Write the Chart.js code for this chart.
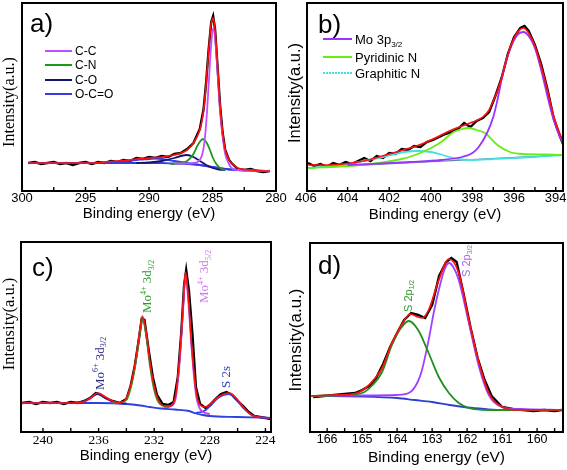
<!DOCTYPE html>
<html>
<head>
<meta charset="utf-8">
<script src="https://cdn.jsdelivr.net/npm/chart.js@4.4.1/dist/chart.umd.min.js"></script>
<style>
  body { margin: 0; background: #fff; }
  #wrap { position: relative; width: 567px; height: 470px; overflow: hidden; background: #fff; }
  canvas { position: absolute; }
</style>
</head>
<body>
<div id="wrap">
  <canvas id="chartA" width="300" height="230" style="left:0;top:0"></canvas>
  <canvas id="chartB" width="282" height="230" style="left:285px;top:0"></canvas>
  <canvas id="chartC" width="300" height="240" style="left:0;top:230px"></canvas>
  <canvas id="chartD" width="282" height="240" style="left:285px;top:230px"></canvas>
</div>
<script>
// ---- a) C 1s ----
const ticksA = [300, 295, 290, 285, 280];
const rawA_E = [299.5, 299, 298.5, 298, 297.5, 297, 296.5, 296, 295.5, 295, 294.5, 294, 293.5, 293, 292.5, 292, 291.5, 291, 290.5, 290, 289.5, 289, 288.5, 288, 287.5, 287, 286.5, 286, 285.7, 285.5, 285.3, 285.1, 284.95, 284.8, 284.6, 284.4, 284.2, 284, 283.7, 283.5, 283, 282.5, 282, 281.5, 281, 280.5];
const rawA_I = [29, 30, 28, 29, 30, 28, 29, 27, 29, 30, 28, 30, 29, 31, 30, 32, 31, 34, 33, 35, 34, 36, 35, 38, 39, 43, 49, 63, 83, 110, 143, 170, 176, 163, 125, 86, 59, 42, 32, 29, 23, 22, 23, 21, 20, 21];
const fitA_I = [29, 29, 29, 29, 29, 29, 29, 29, 29, 29, 29, 29.5, 30, 30.5, 31, 31.5, 32, 33, 33.5, 34, 34.5, 35, 36, 37, 39, 42, 49, 62, 82, 109, 142, 169, 174, 162, 125, 85, 59, 42, 32, 29, 24, 22.5, 22, 21.5, 21, 21];
const ccE = [288, 287, 286.5, 286, 285.7, 285.5, 285.3, 285.1, 284.95, 284.8, 284.6, 284.4, 284.2, 284, 283.7, 283.5, 283, 282, 280.5];
const ccI = [28.5, 28.5, 29, 32, 44, 68, 108, 148, 164, 154, 119, 80, 55, 38, 28, 24, 22, 21.5, 21];
const cnE = [288.3, 287.5, 287, 286.5, 286.2, 285.95, 285.75, 285.5, 285.2, 285, 284.7, 284.3, 284];
const cnI = [28, 29, 31, 38, 46, 51, 53, 50, 42, 35, 28, 23, 22];
const coE = [291, 290, 289, 288, 287.5, 287, 286.5, 286, 285.5, 285, 284.5, 284];
const coI = [29, 29.5, 31, 34, 36, 37, 35, 31, 27, 24, 22.5, 22];
const occE = [299.5, 294, 293, 292, 291, 290, 289.5, 289, 288, 287, 286, 285, 284, 283, 280.5];
const occI = [29, 29, 29.5, 30.5, 32, 33, 33.5, 33, 31, 29, 27, 25, 23, 22, 21];
const bgA_E = [299.5, 289, 288, 287, 286, 285, 284, 283, 280.5];
const bgA_I = [29, 29, 28.5, 28, 27, 25, 23, 22, 21];

// ---- b) N 1s / Mo 3p ----
const ticksB = [406, 404, 402, 400, 398, 396, 394];
const rawB_E = [405.9, 405.6, 405.3, 405.0, 404.7, 404.4, 404.1, 403.8, 403.5, 403.2, 402.9, 402.6, 402.3, 402.0, 401.7, 401.4, 401.1, 400.8, 400.5, 400.2, 399.9, 399.6, 399.3, 399.0, 398.7, 398.4, 398.1, 397.8, 397.5, 397.2, 396.9, 396.6, 396.3, 396.0, 395.7, 395.5, 395.3, 395.0, 394.7, 394.4, 394.1, 393.8, 393.65];
const rawB_I = [29, 26, 28, 25, 29, 27, 30, 28, 31, 34, 31, 36, 34, 39, 38, 43, 42, 46, 45, 50, 52, 55, 58, 60, 63, 69, 65, 71, 74, 80, 96, 114, 138, 155, 164, 166, 161, 147, 128, 103, 74, 56, 48];
const fitB_E = [405.9, 405, 404, 403, 402.5, 402, 401.5, 401, 400.5, 400, 399.5, 399, 398.5, 398, 397.5, 397.2, 397, 396.8, 396.6, 396.3, 396, 395.8, 395.55, 395.3, 395, 394.7, 394.4, 394.1, 393.8, 393.65];
const fitB_I = [27, 27, 28.5, 32, 35, 38, 41, 44, 47.5, 52, 57, 62, 66, 70, 75, 82, 91, 101, 114, 137, 154, 161, 164, 159, 146, 126, 102, 76, 58, 52];
const mo3pE = [404, 401, 399.5, 398.5, 398, 397.7, 397.3, 397, 396.8, 396.5, 396.2, 396, 395.8, 395.55, 395.3, 395, 394.7, 394.4, 394.1, 393.8, 393.65];
const mo3pI = [27, 30, 32, 35, 39, 45, 59, 75, 92, 122, 143, 152, 158, 160, 156, 144, 122, 96, 72, 55, 49];
const pyrE = [405.9, 404, 402.5, 401.4, 400.9, 400.4, 399.9, 399.5, 398.9, 398.5, 398.2, 397.8, 397.4, 396.8, 396.2, 395.6, 394.5, 393.65];
const pyrI = [24, 26, 29, 33, 36, 40, 45, 50, 60, 63, 64, 62, 59, 47, 40, 38, 37.5, 37];
const graE = [405.9, 404, 403, 402.3, 401.9, 401.3, 400.6, 400, 399.6, 399.1, 398.7, 398, 397, 395, 393.65];
const graI = [24, 28, 32, 35, 37, 40, 41, 40, 38, 35, 33, 32, 33, 35, 37];
const bgB_E = [405.9, 393.65];
const bgB_I = [24, 37];

// ---- c) Mo 3d ----
const ticksC = [240, 236, 232, 228, 224];
const rawC_E = [241.5, 241, 240.5, 240, 239.5, 239, 238.5, 238, 237.5, 237, 236.6, 236.2, 235.9, 235.5, 235, 234.5, 234, 233.7, 233.4, 233.1, 232.9, 232.7, 232.4, 232.1, 231.8, 231.4, 231, 230.6, 230.3, 230.05, 229.85, 229.7, 229.5, 229.25, 229, 228.7, 228.3, 228, 227.6, 227.2, 226.8, 226.4, 226, 225.6, 225.2, 224.8, 224.4, 224, 223.6];
const rawC_I = [29, 30, 28, 30, 29, 30, 28, 30, 29, 31, 34, 39, 38, 34, 31, 29, 33, 46, 66, 93, 113, 112, 82, 55, 37, 28, 27, 30, 55, 100, 147, 162, 141, 98, 45, 28, 24, 27, 33, 38, 40, 37, 31, 26, 20, 16, 15, 14, 13];
const fitC_E = [241.6, 238.3, 237.1, 236.5, 236.1, 235.5, 235.0, 234.5, 234.0, 233.6, 233.3, 233.0, 232.85, 232.6, 232.3, 232.0, 231.7, 231.3, 230.9, 230.5, 230.2, 229.95, 229.75, 229.55, 229.3, 229.0, 228.7, 228.3, 227.9, 227.5, 227.0, 226.6, 226.1, 225.6, 225.0, 224.5, 223.6];
const fitC_I = [29, 29, 30, 35, 39, 35, 31, 29, 34, 52, 75, 105, 116, 102, 69, 45, 32, 26, 26, 34, 69, 119, 160, 135, 85, 42, 27, 25, 29, 34, 38, 39, 34, 25, 17, 15, 14];
const mo4d3E = [235, 234.5, 234, 233.6, 233.3, 233, 232.85, 232.6, 232.3, 232, 231.7, 231.3, 230.9];
const mo4d3I = [29, 29.5, 32, 49, 72, 102, 113, 99, 66, 42, 30, 26, 25];
const mo4d5E = [231.3, 230.9, 230.5, 230.2, 229.95, 229.75, 229.55, 229.3, 229.0, 228.7, 228.3, 228];
const mo4d5I = [25, 25.5, 31, 65, 116, 157, 132, 82, 38, 23, 19, 18];
const mo6E = [238.5, 237.5, 237.1, 236.5, 236.1, 235.5, 235, 234.5, 234];
const mo6I = [29, 29.5, 31, 35, 38, 34, 30.5, 29, 28.5];
const s2sE = [229, 228.6, 228.3, 227.9, 227.5, 227, 226.6, 226.1, 225.6, 225, 224.5, 223.6];
const s2sI = [19, 20, 22, 27, 33, 37, 38, 33, 24, 17, 15, 14];
const bgC_E = [241.6, 236, 234, 233, 232.3, 231.5, 230.5, 229.5, 229, 228.5, 228, 226, 223.6];
const bgC_I = [29, 29, 28, 26.5, 25, 23.5, 22.5, 21, 18.5, 17, 16, 15, 14];

// ---- d) S 2p ----
const ticksD = [166, 165, 164, 163, 162, 161, 160];
const rawD_E = [166.4, 166.1, 165.8, 165.5, 165.2, 165.0, 164.8, 164.6, 164.4, 164.2, 164.0, 163.8, 163.6, 163.4, 163.2, 163.0, 162.8, 162.6, 162.45, 162.3, 162.1, 161.9, 161.7, 161.5, 161.3, 161.0, 160.7, 160.4, 160.1, 159.8, 159.5, 159.3];
const rawD_I = [35, 36, 37, 38, 39, 42, 46, 54, 68, 85, 99, 112, 119, 117, 114, 127, 156, 170, 174, 170, 138, 104, 74, 52, 36, 25, 23, 22, 21, 22, 21, 22];
const fitD_E = [166.45, 165.8, 165.2, 164.9, 164.6, 164.43, 164.15, 163.91, 163.62, 163.4, 163.29, 163.1, 162.81, 162.52, 162.24, 161.95, 161.66, 161.38, 161.0, 160.5, 159.26];
const fitD_I = [36, 37, 38.5, 44, 55, 64, 89, 105, 118, 115, 114, 122, 152, 173, 159, 112, 69, 39, 25, 22, 22];
const s2p1E = [166.45, 165.5, 165, 164.7, 164.43, 164.15, 163.91, 163.67, 163.4, 163.1, 162.81, 162.52, 162.24, 161.95, 161.38, 160.5, 159.26];
const s2p1I = [36, 37, 39, 47, 60, 87, 103, 111, 102, 79, 55, 39, 29, 24, 22, 22, 22];
const s2p3E = [166.45, 165, 164, 163.62, 163.4, 163.29, 163.1, 162.95, 162.81, 162.65, 162.52, 162.38, 162.24, 161.95, 161.66, 161.38, 161.0, 160.5, 159.26];
const s2p3I = [36, 36.5, 37, 40, 51, 62, 92, 120, 142, 162, 169, 164, 152, 109, 65, 37, 25, 23, 22];
const bgD_E = [166.45, 165, 164, 163.5, 163, 162.5, 162, 161.5, 161, 159.26];
const bgD_I = [36, 35.5, 34, 32, 30, 27, 24.5, 23, 22, 22];

const SANS = '"Liberation Sans", Arial, sans-serif';
const SERIF = '"Liberation Serif", "Times New Roman", serif';

// smooth fitted curve
function curve(E, I, color, width, extra) {
  return Object.assign({
    data: E.map((e, i) => ({ x: e, y: I[i] })),
    borderColor: color,
    borderWidth: width,
    pointRadius: 0,
    fill: false,
    cubicInterpolationMode: "monotone",
  }, extra || {});
}

// noisy measured data
function raw(E, I) {
  return {
    data: E.map((e, i) => ({ x: e, y: I[i] })),
    borderColor: "#000",
    borderWidth: 2.4,
    pointRadius: 0,
    tension: 0,
    fill: false,
  };
}

// text with super/subscripts, optionally rotated to read bottom-to-top
function richText(ctx, parts, x, y, size, family, color, rotate) {
  ctx.save();
  ctx.translate(x, y);
  if (rotate) ctx.rotate(-Math.PI / 2);
  ctx.fillStyle = color;
  ctx.textAlign = "left";
  ctx.textBaseline = "alphabetic";
  let cx = 0;
  parts.forEach(([t, kind]) => {
    const s = kind ? size * 0.62 : size;
    const dy = kind === "sup" ? -size * 0.42 : kind === "sub" ? size * 0.22 : 0;
    ctx.font = `${s}px ${family}`;
    ctx.fillText(t, cx, dy);
    cx += ctx.measureText(t).width;
  });
  ctx.restore();
}

// frame, inward ticks, panel letter, y title, legend and notes
function decor(p) {
  return {
    id: "decor",
    afterDraw(chart) {
      const { ctx, chartArea: a } = chart;
      const xs = chart.scales.x;
      ctx.save();
      ctx.strokeStyle = "#000";
      ctx.lineWidth = 1.4;
      for (let k = Math.ceil(xs.min / p.minor - 1e-6); k * p.minor <= xs.max + 1e-6; k++) {
        const px = xs.getPixelForValue(k * p.minor);
        ctx.beginPath();
        ctx.moveTo(px, a.bottom);
        ctx.lineTo(px, a.bottom - 4);
        ctx.stroke();
      }
      ctx.lineWidth = 2;
      ctx.strokeRect(a.left, a.top, a.right - a.left, a.bottom - a.top);

      ctx.fillStyle = "#000";
      ctx.font = `26px ${SANS}`;
      ctx.textAlign = "left";
      ctx.textBaseline = "alphabetic";
      ctx.fillText(p.letter, p.letterPos[0], p.letterPos[1]);

      ctx.save();
      ctx.translate(p.yTitlePos[0], p.yTitlePos[1]);
      ctx.rotate(-Math.PI / 2);
      ctx.textAlign = "center";
      ctx.textBaseline = "middle";
      ctx.font = `${p.yTitleSize}px ${p.yTitleFont}`;
      ctx.fillText("Intensity(a.u.)", 0, 0);
      ctx.restore();

      (p.legend || []).forEach((l) => {
        ctx.strokeStyle = l.color;
        ctx.lineWidth = 2;
        ctx.setLineDash(l.dash || []);
        ctx.beginPath();
        ctx.moveTo(l.x0, l.y);
        ctx.lineTo(l.x1, l.y);
        ctx.stroke();
        ctx.setLineDash([]);
        richText(ctx, l.parts, l.x1 + 3, l.y + l.size * 0.36, l.size, SANS, "#000", false);
      });

      (p.notes || []).forEach((n) => {
        richText(ctx, n.parts, n.x, n.y, n.size, n.font, n.color, true);
      });
      ctx.restore();
    },
  };
}

function makeChart(id, c) {
  return new Chart(document.getElementById(id), {
    type: "line",
    data: { datasets: c.datasets },
    options: {
      responsive: false,
      animation: false,
      devicePixelRatio: 1,
      layout: { padding: c.padding },
      plugins: { legend: { display: false }, tooltip: { enabled: false } },
      scales: {
        x: {
          type: "linear",
          reverse: true,
          min: c.xMin,
          max: c.xMax,
          grid: { display: false, drawTicks: false },
          border: { display: false },
          afterBuildTicks: (s) => { s.ticks = c.ticks.map((v) => ({ value: v })); },
          ticks: {
            autoSkip: false,
            maxRotation: 0,
            padding: 0,
            color: "#000",
            font: { family: c.tickFont, size: c.tickSize },
          },
          title: {
            display: true,
            text: "Binding energy (eV)",
            color: "#000",
            font: { family: "Liberation Sans", size: c.titleSize },
            padding: 0,
          },
          afterFit: (s) => { s.height = c.xHeight; s.paddingLeft = 0; s.paddingRight = 0; },
        },
        y: { display: false, min: c.yMin, max: c.yMax },
      },
    },
    plugins: [decor(c.decor)],
  });
}

// a)
makeChart("chartA", {
  xMin: 280, xMax: 300, ticks: ticksA, tickFont: "Liberation Sans", tickSize: 13, titleSize: 15,
  padding: { left: 22, right: 24, top: 3, bottom: 7 }, xHeight: 32, yMin: 1, yMax: 189,
  datasets: [
    curve(rawA_E, fitA_I, "#ff1010", 1.6, { cubicInterpolationMode: "default", tension: 0.3 }),
    curve(ccE, ccI, "#c050ff", 1.8),
    curve(cnE, cnI, "#1a9a1a", 1.8),
    curve(coE, coI, "#14146e", 1.8),
    curve(occE, occI, "#3a3ae0", 1.8),
    curve(bgA_E, bgA_I, "#3040e0", 1.8),
    raw(rawA_E, rawA_I),
  ],
  decor: {
    minor: 2.5, letter: "a)", letterPos: [30, 32],
    yTitlePos: [10, 102], yTitleFont: SERIF, yTitleSize: 16,
    legend: [
      { x0: 45, x1: 72, y: 51, color: "#c050ff", size: 12, parts: [["C-C"]] },
      { x0: 45, x1: 72, y: 65, color: "#1a9a1a", size: 12, parts: [["C-N"]] },
      { x0: 45, x1: 72, y: 80, color: "#14146e", size: 12, parts: [["C-O"]] },
      { x0: 45, x1: 72, y: 94, color: "#3a3ae0", size: 12, parts: [["O-C=O"]] },
    ],
  },
});

// b)
makeChart("chartB", {
  xMin: 393.65, xMax: 405.95, ticks: ticksB, tickFont: "Liberation Sans", tickSize: 13, titleSize: 15,
  padding: { left: 22, right: 4, top: 3, bottom: 6 }, xHeight: 33, yMin: 1, yMax: 189,
  datasets: [
    curve(fitB_E, fitB_I, "#ff1010", 1.6),
    curve(mo3pE, mo3pI, "#9933ff", 1.8),
    curve(pyrE, pyrI, "#66ee11", 1.8),
    curve(graE, graI, "#44e0e0", 1.8),
    curve(bgB_E, bgB_I, "#6a7fb0", 1.2),
    raw(rawB_E, rawB_I),
  ],
  decor: {
    minor: 1, letter: "b)", letterPos: [33, 33],
    yTitlePos: [10.5, 93], yTitleFont: SANS, yTitleSize: 16.5,
    legend: [
      { x0: 38, x1: 67, y: 39, color: "#9933ff", size: 13, parts: [["Mo 3p"], ["3/2", "sub"]] },
      { x0: 38, x1: 67, y: 57, color: "#66ee11", size: 13, parts: [["Pyridinic N"]] },
      { x0: 38, x1: 67, y: 73, color: "#44e0e0", size: 13, dash: [2, 1], parts: [["Graphitic N"]] },
    ],
  },
});

// c)
makeChart("chartC", {
  xMin: 223.6, xMax: 241.58, ticks: ticksC, tickFont: "Liberation Serif", tickSize: 13.5, titleSize: 15,
  padding: { left: 21, right: 29, top: 12, bottom: 5 }, xHeight: 33, yMin: 0, yMax: 190,
  datasets: [
    curve(fitC_E, fitC_I, "#ff1010", 1.6),
    curve(mo4d3E, mo4d3I, "#2a9a2a", 1.8),
    curve(mo4d5E, mo4d5I, "#bb44ee", 1.8),
    curve(mo6E, mo6I, "#22227a", 1.8),
    curve(s2sE, s2sI, "#2f3fe0", 1.8),
    curve(bgC_E, bgC_I, "#2f3fe0", 1.8),
    raw(rawC_E, rawC_I),
  ],
  decor: {
    minor: 2, letter: "c)", letterPos: [32, 46],
    yTitlePos: [10, 94], yTitleFont: SERIF, yTitleSize: 16.5,
    notes: [
      { x: 103.5, y: 160, size: 13, font: SERIF, color: "#2a2a8a", parts: [["Mo"], ["6+", "sup"], [" 3d"], ["3/2", "sub"]] },
      { x: 151, y: 83, size: 13, font: SERIF, color: "#2a9a2a", parts: [["Mo"], ["4+", "sup"], [" 3d"], ["3/2", "sub"]] },
      { x: 208, y: 73, size: 13, font: SERIF, color: "#cc77ee", parts: [["Mo"], ["4+", "sup"], [" 3d"], ["5/2", "sub"]] },
      { x: 230, y: 158, size: 13, font: SERIF, color: "#3040c0", parts: [["S 2s"]] },
    ],
  },
});

// d)
makeChart("chartD", {
  xMin: 159.26, xMax: 166.49, ticks: ticksD, tickFont: "Liberation Sans", tickSize: 12.5, titleSize: 15.5,
  padding: { left: 25, right: 4, top: 13, bottom: 3 }, xHeight: 35, yMin: 0, yMax: 189,
  datasets: [
    curve(fitD_E, fitD_I, "#ff1010", 1.7),
    curve(s2p1E, s2p1I, "#1f8f1f", 1.8),
    curve(s2p3E, s2p3I, "#a040ff", 1.8),
    curve(bgD_E, bgD_I, "#2f3fd0", 1.8),
    raw(rawD_E, rawD_I),
  ],
  decor: {
    minor: 0.5, letter: "d)", letterPos: [33, 44],
    yTitlePos: [11, 110], yTitleFont: SANS, yTitleSize: 17,
    notes: [
      { x: 127, y: 82, size: 11, font: SANS, color: "#2a9a2a", parts: [["S 2p"], ["1/2", "sub"]] },
      { x: 185, y: 47, size: 11, font: SANS, color: "#b060f0", parts: [["S 2p"], ["3/2", "sub"]] },
    ],
  },
});
</script>
</body>
</html>
